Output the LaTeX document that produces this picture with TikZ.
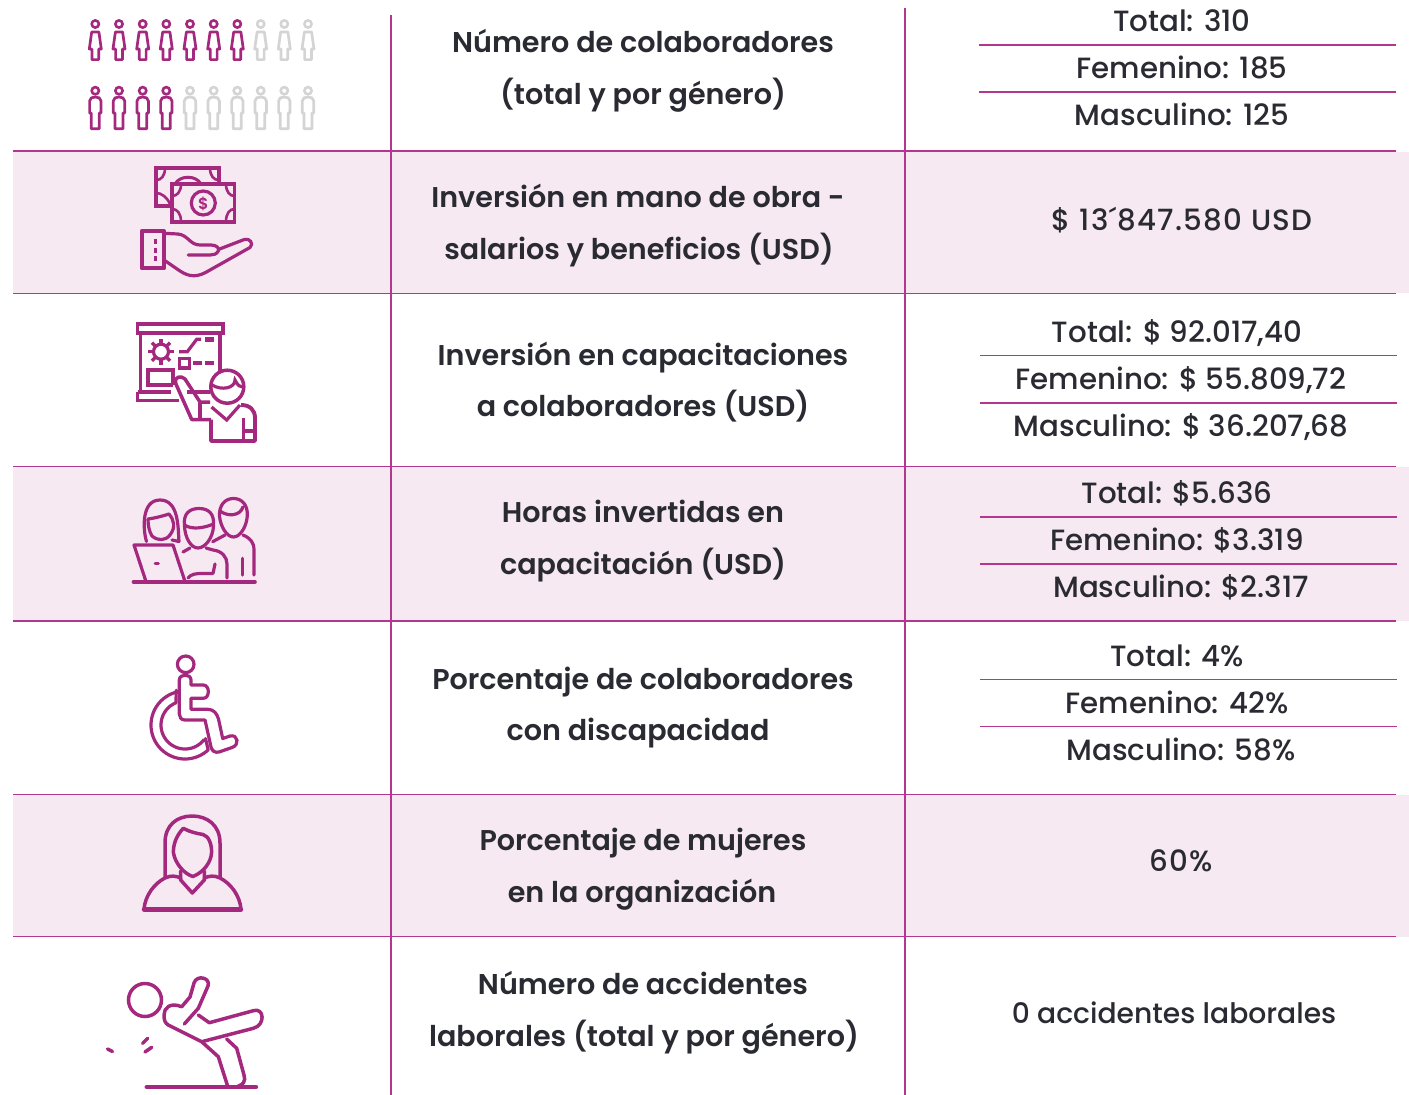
\documentclass[tikz,border=0pt]{standalone}
\usepackage{fontspec}
\setmainfont{Poppins Medium}
\newfontfamily\semifont{Poppins SemiBold}
\definecolor{iconc}{HTML}{A5287F}
\definecolor{rulec}{HTML}{B4378F}
\definecolor{bandc}{HTML}{F6E9F2}
\definecolor{textc}{HTML}{2A2A32}
\definecolor{greyc}{HTML}{D4D4D4}
\tikzset{
  x=1pt,y=-1pt,
  rowrule/.style={rulec,line width=1.05pt},
  band/.style={fill=bandc,draw=none},
  ico/.style={iconc,line width=3.2pt,line join=round,line cap=round},
  tico/.style={iconc,line width=3.9pt,line join=miter},
  labelc/.style={anchor=base,inner sep=0pt,text=textc,font=\semifont\fontsize{28.6}{30}\selectfont},
  valc/.style={anchor=base,inner sep=0pt,text=textc,font=\fontsize{29.3}{30}\selectfont},
  womanfig/.pic={
    \draw[line width=2.6pt,line join=round] (0,24) circle[radius=3.6];
    \draw[line width=2.7pt,line join=round] (-3.6,32) -- (3.6,32) -- (6,49) -- (3.4,49) -- (3.4,59.6) -- (-3.4,59.6) -- (-3.4,49) -- (-6,49) -- cycle;
  },
  manfig/.pic={
    \draw[line width=2.6pt] (0,90.7) circle[radius=3.6];
    \draw[line width=2.7pt,line join=round] (-5.7,113) -- (-5.7,101) .. controls (-5.7,98) and (-3,97) .. (0,97) .. controls (3,97) and (5.7,98) .. (5.7,101) -- (5.7,113) -- (4,113) -- (4,128.8) -- (-4,128.8) -- (-4,113) -- cycle;
  }
}
\begin{document}
\begin{tikzpicture}
\useasboundingbox (0,0) rectangle (1409,1095);
\fill[white] (0,0) rectangle (1409,1095);
% bands
\fill[band] (13,152) rectangle (1409,293);
\fill[band] (13,467) rectangle (1409,621);
\fill[band] (13,795) rectangle (1409,937);
% rules
\foreach \yy in {151,293.5,466.5,621,794.5,936.5}{\draw[rowrule] (13,\yy) -- (1396,\yy);}
\draw[rowrule] (391,15) -- (391,1095);
\draw[rowrule] (905,8) -- (905,1095);
\foreach \yy in {45,92}{\draw[rowrule] (979,\yy) -- (1396,\yy);}
\foreach \yy in {355.5,403,517,564,679.5,726.5}{\draw[rowrule] (980,\yy) -- (1397,\yy);}
% people
\foreach \xx in {95.3,119,142.7,166.3,190,213.7,237.3}{\pic[iconc] at (\xx,0) {womanfig};}
\foreach \xx in {260.7,284.3,308}{\pic[greyc] at (\xx,0) {womanfig};}
\foreach \xx in {95.3,119,142.7,166.3}{\pic[iconc] at (\xx,0) {manfig};}
\foreach \xx in {190,213.7,237.3,260.7,284.3,308}{\pic[greyc] at (\xx,0) {manfig};}
% money
\draw[tico] (171.7,205.7) -- (156.3,205.7) -- (156.3,168) -- (218.7,168) -- (218.7,184);
\draw[tico] (172,184.2) rectangle (234.5,221.7);
\draw[iconc,line width=3pt] (201,184) .. controls (196,175) and (180,175) .. (175,184);
\draw[iconc,line width=2.6pt] (156.5,180) .. controls (161,180) and (165,176) .. (165,168);
\draw[iconc,line width=2.6pt] (218.5,180) .. controls (214,180) and (210,176) .. (210,168);
\draw[iconc,line width=2.6pt] (156.5,193) .. controls (161,193) and (167,197) .. (170,204);
\draw[iconc,line width=2.6pt] (172,196) .. controls (177,196) and (181,192) .. (181,184);
\draw[iconc,line width=2.6pt] (234.5,196) .. controls (230,196) and (226,192) .. (226,184);
\draw[iconc,line width=2.6pt] (172,209) .. controls (177,209) and (181,213) .. (181,221.7);
\draw[iconc,line width=2.6pt] (234.5,209) .. controls (230,209) and (226,213) .. (226,221.7);
\draw[iconc,line width=3.2pt] (203.3,203) circle[radius=12];
\node[anchor=center,inner sep=0pt,text=iconc,font=\semifont\fontsize{16}{16}\selectfont] (dollar) at (203.3,203.5) {\$};
% hand
\draw[tico,line join=round] (141.7,231) rectangle (164,268.3);
\draw[iconc,line width=3pt,dash pattern=on 5pt off 3.5pt] (155.3,239) -- (155.3,263);
\draw[ico] (164,233.3) -- (178,234) .. controls (188,235) and (190,245) .. (200,245) -- (211,245) .. controls (216,245) and (220,248) .. (218.3,251) .. controls (216.5,254.5) and (213,255) .. (210,255) -- (188.3,255);
\draw[ico] (218.3,249.5) -- (244,239.6) .. controls (250,237.5) and (254,244) .. (250,247.5) -- (210,270) .. controls (198,277.5) and (190,277.5) .. (180,271) -- (164,260);
% presentation
\draw[tico] (137.5,324) rectangle (223,332.7);
\draw[tico] (140.5,332.7) -- (140.5,391.7);
\draw[tico] (220.3,332.7) -- (220.3,372);
\draw[tico] (137.5,391.7) -- (137.5,400.5) -- (179,400.5);
\draw[tico] (137.5,391.7) -- (171,391.7);
\draw[tico] (187,391.7) -- (210,391.7);
\draw[iconc,line width=3.2pt] (161,351.7) circle[radius=7.5];
\foreach \a in {0,45,...,315}{\draw[iconc,line width=3.4pt] ({161+8*cos(\a)},{351.7+8*sin(\a)}) -- ({161+12.8*cos(\a)},{351.7+12.8*sin(\a)});}
\draw[iconc,line width=3.2pt] (179,351.7) -- (187.3,351.7) -- (196.7,339.3) -- (201,339.3);
\draw[iconc,line width=4.8pt] (205,339.3) -- (214,339.3);
\draw[iconc,line width=3.2pt] (179.5,358.8) rectangle (189.5,368);
\draw[iconc,line width=4pt] (193.3,362.7) -- (201.7,362.7) (205,362.7) -- (214,362.7);
\draw[tico] (173,385) -- (147.7,385) -- (147.7,370) -- (173.3,370) -- (173.3,385);
\draw[iconc,line width=3.5pt,line join=round] (175.5,383) .. controls (174,377) and (181,375) .. (185,379) -- (200,402) -- (210,402);
\draw[iconc,line width=3.5pt,line join=round] (175.5,383) -- (191.7,419.5) -- (211,419.5);
\draw[iconc,line width=3.2pt] (200,403) -- (200,419);
\draw[iconc,line width=3.5pt] (227.3,386.7) circle[radius=16.5];
\draw[iconc,line width=3.2pt] (212,385) .. controls (222,391) and (235,388) .. (235,380) .. controls (238,386) and (240,387) .. (243,387);
\draw[iconc,line width=3.2pt] (211.5,407) -- (226.7,420) -- (240,405);
\draw[tico,line join=round] (211,419.5) -- (211,441) -- (255,441) -- (255,418) .. controls (255,410) and (250,405) .. (241,405);
\draw[iconc,line width=3.2pt] (243.5,418) -- (243.5,441) (243.5,431) -- (255,431);
% team
\draw[ico,line width=3.6pt] (133.5,582) -- (255,582);
\draw[ico] (146,581.5) -- (134,545) -- (173,545) -- (185,581.5);
\draw[iconc,line width=2.6pt,line cap=round] (155,563.3) -- (158.5,563.3);
\draw[ico] (146.5,541.5) .. controls (143,530) and (141,500) .. (160,500) .. controls (179,500) and (178,528) .. (179,541.5) -- (172,540);
\draw[ico] (148,519) .. controls (156,518) and (166,515) .. (169,514) .. controls (174,520) and (176,527) .. (170,535) .. controls (165,541) and (158,541) .. (152,536) .. controls (149,531) and (148,525) .. (148,519);
\draw[ico] (184.5,526) .. controls (183,513) and (190,508.5) .. (199,508.5) .. controls (209,508.5) and (214.5,514) .. (213.5,526) .. controls (213,538) and (205,548) .. (198,548) .. controls (191,548) and (185,538) .. (184.5,526);
\draw[ico] (184.5,525) .. controls (192,530) and (204,528) .. (213.5,524);
\draw[ico] (183,552) -- (190,548);
\draw[ico] (206,548) -- (213,550) .. controls (222,551) and (227,557) .. (227,564) -- (227,578);
\draw[ico] (188,578) .. controls (191,574) and (196,573.5) .. (202,573.5) -- (213,573.5) -- (215,564);
\draw[ico] (219.5,516) .. controls (219,505) and (225,498.5) .. (233.5,498.5) .. controls (242,498.5) and (248,505) .. (247.3,516) .. controls (246.5,527) and (240,537) .. (233.5,537) .. controls (227,537) and (220.5,527) .. (219.5,516);
\draw[ico] (220,511) .. controls (228,517) and (240,516) .. (243,507);
\draw[ico] (212.7,541.7) -- (225,535);
\draw[ico] (243,535) .. controls (250,538) and (254,542) .. (254,550) -- (254,575);
\draw[ico] (242.3,558.3) -- (242.3,575);
% wheelchair
\draw[iconc,line width=3.2pt] (185.7,664.3) circle[radius=8.3];
\draw[ico] (179.3,680) .. controls (179.3,673.5) and (191,673.5) .. (191,680) -- (191,685) -- (203.3,685) .. controls (210,685) and (210,698.3) .. (203.3,698.3) -- (191,698.3) -- (191,709.3) -- (208,709.3) .. controls (214,709.3) and (217,714) .. (218.5,719) -- (222.7,738.5) -- (230,736) .. controls (238,734) and (240,745) .. (232,747.5) -- (219,752) .. controls (215,753) and (212,751) .. (211,747) -- (205,720) -- (185,720) .. controls (181,720) and (179.3,717) .. (179.3,714) -- cycle;
\draw[ico] plot[domain=255:47,samples=50,smooth] ({185+34*cos(\x)},{725+34*sin(\x)}) -- (205.5,738.5) plot[domain=38:248,samples=50,smooth] ({185+24*cos(\x)},{725+24*sin(\x)}) -- (176.2,690.2);
% woman
\draw[ico,line width=3.5pt] (165,877) -- (165,843) .. controls (165,825) and (177,816) .. (192.3,816) .. controls (207,816) and (220,825) .. (220,843) -- (220,877);
\draw[ico,line width=3.5pt] (183.3,828.3) .. controls (190,832) and (197,833.5) .. (203,834.5) .. controls (209,836) and (212,845) .. (211.5,853) .. controls (211,862) and (204,872) .. (193,876.5) .. controls (184,874) and (175,863) .. (173.5,853) .. controls (173,845) and (176,836) .. (183.3,828.3);
\draw[ico,line width=3.5pt] (180.7,871) -- (180.7,880) -- (192.3,893) -- (204.3,880) -- (204.3,871);
\draw[ico,line width=3.5pt] (144,909.5) .. controls (145,895) and (155,883) .. (165,878) .. controls (171,875) and (176,876) .. (180.7,878);
\draw[ico,line width=3.5pt] (241,909.5) .. controls (240,895) and (230,883) .. (220,878) .. controls (214,875) and (209,876) .. (204.3,878);
\draw[ico,line width=4.4pt] (144,909.5) -- (241,909.5);
% accident
\draw[iconc,line width=3.5pt] (145,1000) circle[radius=16.5];
\draw[ico,line width=4.4pt] (146.7,1087) -- (256,1087);
\draw[ico,line width=3.5pt] (107.5,1049) -- (112.5,1051.5) (142.7,1043.3) -- (147.7,1038.3) (145,1052) -- (151.7,1047.3);
\draw[ico,line width=3.5pt] (184.3,1024) -- (198.3,1008.3) -- (208,986) .. controls (211,978) and (197,974) .. (194,983) -- (190,997) -- (181.7,1006.7) .. controls (170,1002) and (164,1008) .. (164,1015) .. controls (164,1020) and (165,1023) .. (168.3,1025) -- (201.7,1041.7) -- (253.3,1028.3) .. controls (266,1025) and (264,1007) .. (253.3,1010.7) -- (209.3,1022.7) -- (198.3,1015);
\draw[ico,line width=3.5pt] (201.7,1041.7) -- (218.3,1056.7) -- (227.3,1085);
\draw[ico,line width=3.5pt] (226.7,1039) -- (236.7,1048.3) -- (244,1075) .. controls (246,1081) and (243,1085) .. (238.3,1086);
% labels
\node[labelc] (l1a) at (643,52) {Número de colaboradores};
\node[labelc] (l1b) at (643,104) {(total y por género)};
\node[labelc] (l2a) at (638,207) {Inversión en mano de obra -};
\node[labelc] (l2b) at (639,259) {salarios y beneficios (USD)};
\node[labelc] (l3a) at (643,365) {Inversión en capacitaciones};
\node[labelc] (l3b) at (643,416) {a colaboradores (USD)};
\node[labelc] (l4a) at (643,522) {Horas invertidas en};
\node[labelc] (l4b) at (643,574) {capacitación (USD)};
\node[labelc] (l5a) at (643,689) {Porcentaje de colaboradores};
\node[labelc] (l5b) at (638,740) {con discapacidad};
\node[labelc] (l6a) at (643,850) {Porcentaje de mujeres};
\node[labelc] (l6b) at (642,902) {en la organización};
\node[labelc] (l7a) at (643,994) {Número de accidentes};
\node[labelc] (l7b) at (644,1046) {laborales (total y por género)};
% values
\node[valc] (v1a) at (1182,31) {Total: 310};
\node[valc] (v1b) at (1182,78) {Femenino: 185};
\node[valc] (v1c) at (1182,125) {Masculino: 125};
\node[valc] (v2) at (1182,230) {\addfontfeature{LetterSpace=4}\$ 13´847.580 USD};
\node[valc] (v3a) at (1177,342) {Total: \$ 92.017,40};
\node[valc] (v3b) at (1181,389) {Femenino: \$ 55.809,72};
\node[valc] (v3c) at (1181,436) {Masculino: \$ 36.207,68};
\node[valc] (v4a) at (1177,503) {Total: \$5.636};
\node[valc] (v4b) at (1177,550) {Femenino: \$3.319};
\node[valc] (v4c) at (1181,597) {Masculino: \$2.317};
\node[valc] (v5a) at (1177,666) {Total: 4\%};
\node[valc] (v5b) at (1177,713) {Femenino: 42\%};
\node[valc] (v5c) at (1181,760) {Masculino: 58\%};
\node[valc] (v6) at (1181,871) {\addfontfeature{LetterSpace=3}60\%};
\node[valc,font=\fontsize{28.2}{30}\selectfont] (v7) at (1174,1023) {0 accidentes laborales};
\end{tikzpicture}
\end{document}
